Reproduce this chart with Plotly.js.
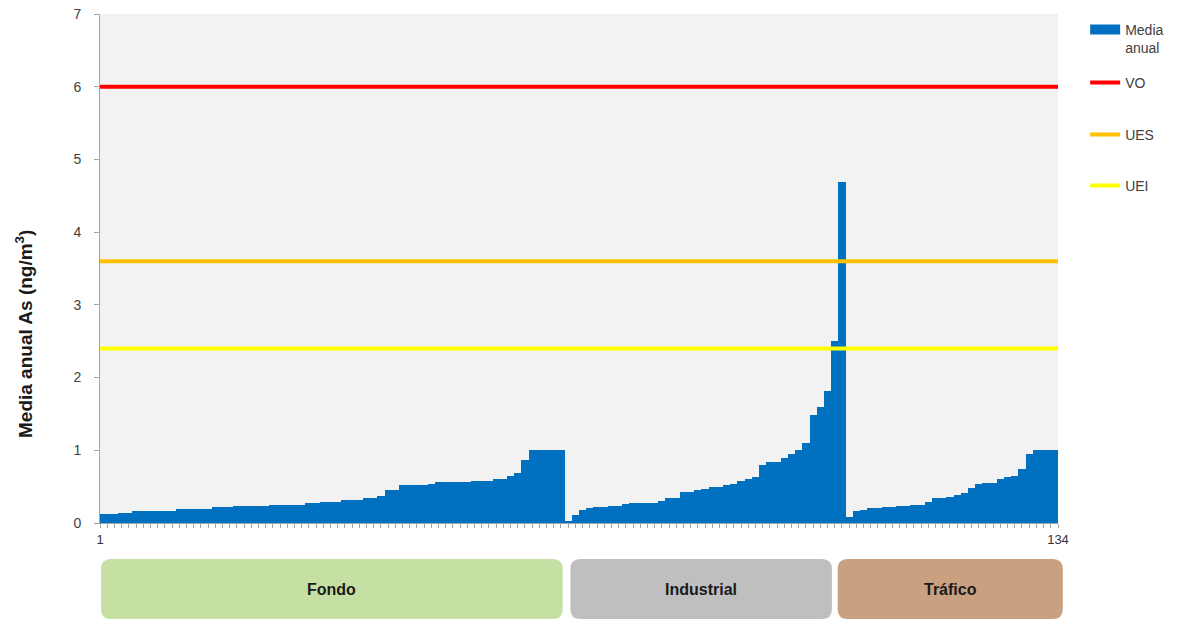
<!DOCTYPE html>
<html><head><meta charset="utf-8">
<script src="https://cdn.plot.ly/plotly-3.0.1.min.js"></script>
<style>html,body{margin:0;padding:0;background:#fff}#chart{width:1184px;height:620px}</style>
</head><body><div id="chart"></div>
<script>
// Annual mean As (ng/m3) per station, sorted within each station type
const fondo = [0.13,0.13,0.13,0.14,0.14,0.16,0.16,0.16,0.16,0.16,0.16,0.19,0.19,0.19,0.19,0.19,
  0.22,0.22,0.22,0.24,0.24,0.24,0.24,0.24,0.25,0.25,0.25,0.25,0.25,0.28,0.28,0.29,0.29,0.29,
  0.32,0.32,0.32,0.34,0.35,0.37,0.45,0.45,0.52,0.52,0.52,0.52,0.54,0.56,0.56,0.56,0.56,0.56,
  0.58,0.58,0.58,0.61,0.61,0.65,0.69,0.86,1.00,1.00,1.00,1.00,1.00];
const industrial = [0.03,0.11,0.18,0.20,0.22,0.22,0.24,0.24,0.26,0.28,0.28,0.28,0.28,0.30,0.35,0.35,
  0.42,0.42,0.45,0.47,0.50,0.50,0.52,0.54,0.575,0.61,0.635,0.80,0.84,0.84,0.89,0.95,1.00,1.10,
  1.49,1.60,1.81,2.50,4.69];
const trafico = [0.085,0.16,0.18,0.20,0.20,0.22,0.22,0.24,0.24,0.25,0.25,0.29,0.34,0.34,0.36,0.38,
  0.41,0.48,0.53,0.55,0.55,0.61,0.63,0.65,0.74,0.95,1.00,1.00,1.00,1.00];
const categories = ['Fondo', 'Industrial', 'Tráfico'];
const limitNames = ['VO', 'UES', 'UEI'];
const limitValues = [6, 3.6, 2.4];
const yTicks = [0,1,2,3,4,5,6,7];

const values = fondo.concat(industrial, trafico);
const stations = values.map((v, i) => i + 1);
const n = stations.length;
const xLabels = [stations[0], stations[n - 1]];

const FONT = 'Liberation Sans, Arial, sans-serif';
const limitColors = ['#ff0000', '#ffc000', '#ffff00'];

const traces = [{
  type: 'bar', x: stations, y: values, name: 'Media anual',
  marker: {color: '#0070c0', line: {width: 0}}, width: 1, showlegend: false,
  hovertemplate: '%{x}: %{y}<extra></extra>'
}, {
  type: 'scatter', mode: 'lines', x: [null], y: [null], name: 'Media<br>anual',
  line: {color: '#0070c0', width: 11}, legend: 'legend', showlegend: true
}];
limitNames.forEach((nm, i) => {
  traces.push({
    type: 'scatter', mode: 'lines', name: nm,
    x: [stations[0] - 1, stations[n - 1] + 1], y: [limitValues[i], limitValues[i]],
    line: {color: limitColors[i], width: 4}, legend: 'legend' + (i + 2), showlegend: true,
    hoverinfo: 'name+y'
  });
});

// category boxes below the axis (paper coords)
const plotW = 958, plotH = 509;
const boxes = [[0.001, 0.483, '#c6e0a4'], [0.491, 0.764, '#bfbfbf'], [0.770, 1.005, '#c9a080']];
const yTop = (523 - 559) / plotH, yBot = (523 - 619) / plotH;
const rx = 10 / plotW, ry = 10 / plotH;
const shapes = boxes.map(b => {
  const x0 = b[0], x1 = b[1];
  const p = `M${x0+rx},${yTop} L${x1-rx},${yTop} Q${x1},${yTop} ${x1},${yTop-ry} L${x1},${yBot+ry} Q${x1},${yBot} ${x1-rx},${yBot} L${x0+rx},${yBot} Q${x0},${yBot} ${x0},${yBot+ry} L${x0},${yTop-ry} Q${x0},${yTop} ${x0+rx},${yTop} Z`;
  return {type: 'path', xref: 'paper', yref: 'paper', path: p, fillcolor: b[2], line: {width: 0}, layer: 'below'};
});
const annotations = categories.map((c, i) => ({
  xref: 'paper', yref: 'paper', x: (boxes[i][0] + boxes[i][1]) / 2, y: (yTop + yBot) / 2,
  text: '<b>' + c + '</b>', showarrow: false, font: {family: FONT, size: 16, color: '#1a1a1a'},
  xanchor: 'center', yanchor: 'middle'
}));
const py = v => (523 - v) / plotH;
annotations.push({
  xref: 'paper', yref: 'paper', x: (24 - 100) / plotW, y: py(334), textangle: -90,
  text: '<b>Media anual As (ng/m<sup>3</sup>)</b>', showarrow: false,
  font: {family: FONT, size: 19, color: '#1a1a1a'}, xanchor: 'center', yanchor: 'middle'
});

const legBase = {font: {family: FONT, size: 14, color: '#404040'}, bgcolor: 'rgba(0,0,0,0)',
  borderwidth: 0, xanchor: 'left', yanchor: 'middle', x: 1.02 + 8 / plotW, itemwidth: 30, valign: 'top'};

const layout = {
  width: 1184, height: 620,
  margin: {l: 100, r: 126, t: 14, b: 97},
  paper_bgcolor: '#ffffff', plot_bgcolor: '#f2f2f2',
  bargap: 0,
  font: {family: FONT, color: '#404040'},
  xaxis: {range: [1, n], tickmode: 'array', tickvals: xLabels, ticktext: xLabels.map(String),
    ticks: 'outside', ticklen: 4, tickcolor: '#a6a6a6', showline: true, linecolor: '#a6a6a6',
    minor: {tick0: 1, dtick: 1, ticks: 'outside', ticklen: 4, tickcolor: '#a6a6a6', showgrid: false},
    linewidth: 1, showgrid: false, zeroline: false, tickangle: 0,
    tickfont: {family: FONT, size: 13, color: '#333333'}, fixedrange: true},
  yaxis: {range: [0, 7], tickvals: yTicks, ticks: 'outside', ticklen: 5, tickcolor: '#a6a6a6',
    showline: true, linecolor: '#a6a6a6', linewidth: 1, showgrid: false, zeroline: false,
    ticklabelstandoff: 10, tickfont: {family: FONT, size: 14, color: '#404040'}},
  legend: Object.assign({}, legBase, {y: py(39)}),
  legend2: Object.assign({}, legBase, {y: py(83)}),
  legend3: Object.assign({}, legBase, {y: py(135)}),
  legend4: Object.assign({}, legBase, {y: py(186)}),
  shapes: shapes, annotations: annotations
};

Plotly.newPlot('chart', traces, layout, {displayModeBar: false});
</script></body></html>
